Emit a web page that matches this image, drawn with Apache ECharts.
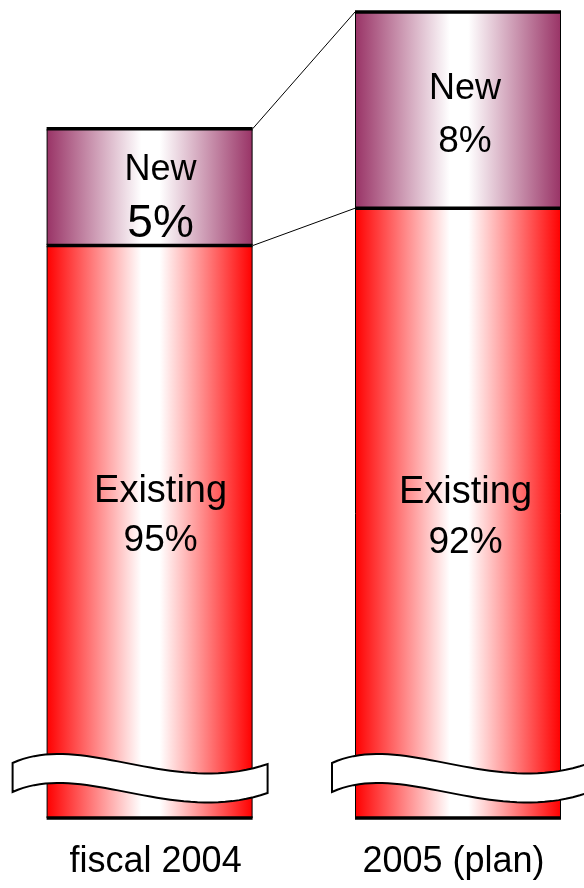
<!DOCTYPE html>
<html><head><meta charset="utf-8">
<script src="https://cdn.jsdelivr.net/npm/echarts@6/dist/echarts.min.js"></script>
<style>html,body{margin:0;padding:0;background:#fff}#c{width:584px;height:888px}</style>
</head><body><div id="c"></div>
<script>
// ---- data ----
const categories = ['fiscal 2004', '2005 (plan)'];
const totalIndex = [100, 105];      // total volume, fiscal 2004 = 100
const existingShare = [95, 92];     // % of each year's total
const newShare = [5, 8];            // % of each year's total
const axisBreakValue = 70.5;        // value at the bottom of the (broken) axis

// ---- derived series values ----
const existingVal = totalIndex.map((t, i) => t * existingShare[i] / 100);
const newVal = totalIndex.map((t, i) => t * newShare[i] / 100);

// ---- styling / layout ----
const FONT = "'Liberation Sans', Arial, sans-serif";
const BAR_W = 206;
const newLabelOffset = [[11, 10.5], [7, 5]];
const existLabelOffset = [[11, -16], [7.5, 4]];
const ribbonShift = [-34, -23];

function grad(edge) {
  return { type: 'linear', x: 0, y: 0, x2: 1, y2: 0, colorStops: [
    { offset: 0, color: edge }, { offset: 0.46, color: '#ffffff' },
    { offset: 0.55, color: '#ffffff' }, { offset: 1, color: edge } ] };
}

const chart = echarts.init(document.getElementById('c'), null, { renderer: 'canvas' });

const existData = existingVal.map((v, i) => ({
  value: v,
  label: { offset: existLabelOffset[i] }
}));
const newData = newVal.map((v, i) => ({
  value: v,
  label: { offset: newLabelOffset[i] }
}));

chart.setOption({
  animation: false,
  backgroundColor: '#ffffff',
  grid: { left: -4.6, right: -28.2, top: 12, bottom: 70, outerBoundsMode: 'none' },
  xAxis: {
    type: 'category', data: categories,
    axisLine: { show: false }, axisTick: { show: false }, splitLine: { show: false },
    axisLabel: {
      margin: 26, fontSize: 36, fontFamily: FONT, color: '#000',
      formatter: (v, i) => (i === 0 ? '{a|' + v + '}' : '{b|' + v + '}'),
      rich: {
        a: { fontSize: 36, fontFamily: FONT, color: '#000', lineHeight: 36, padding: [0, 0, 0, 12] },
        b: { fontSize: 36, fontFamily: FONT, color: '#000', lineHeight: 36, padding: [0, 9, 0, 0] }
      }
    }
  },
  yAxis: {
    type: 'value', min: axisBreakValue, max: totalIndex[1],
    show: false, splitLine: { show: false }
  },
  series: [
    {
      name: 'Existing', type: 'bar', stack: 'total', barWidth: BAR_W, clip: true,
      data: existData,
      itemStyle: { color: grad('#ff0000'), borderColor: '#000', borderWidth: 1 },
      label: {
        show: true, position: 'inside', color: '#000', fontFamily: FONT,
        formatter: (p) => '{t|Existing}\n{v|' + existingShare[p.dataIndex] + '%}',
        rich: {
          t: { fontSize: 38, fontFamily: FONT, color: '#000', lineHeight: 50 },
          v: { fontSize: 37, fontFamily: FONT, color: '#000', lineHeight: 50 }
        }
      }
    },
    {
      name: 'New', type: 'bar', stack: 'total', barWidth: BAR_W, clip: true,
      data: newData,
      itemStyle: { color: grad('#993366'), borderColor: '#000', borderWidth: 1 },
      label: {
        show: true, position: 'inside', color: '#000', fontFamily: FONT,
        formatter: (p) => p.dataIndex === 0
          ? '{t|New}\n{big|' + newShare[0] + '%}'
          : '{t|New}\n{v|' + newShare[p.dataIndex] + '%}',
        rich: {
          t: { fontSize: 36, fontFamily: FONT, color: '#000', lineHeight: 53 },
          v: { fontSize: 37, fontFamily: FONT, color: '#000', lineHeight: 53 },
          big: { fontSize: 46, fontFamily: FONT, color: '#000', lineHeight: 55 }
        }
      }
    }
  ]
});

// ---- decorations computed through the chart's own scales ----
function px(i) { return chart.convertToPixel({ xAxisIndex: 0 }, i); }
function py(v) { return chart.convertToPixel({ yAxisIndex: 0 }, v); }

function cubic(p0, p1, p2, p3, n) {
  const pts = [];
  for (let k = 0; k <= n; k++) {
    const t = k / n, u = 1 - t;
    pts.push([
      u*u*u*p0[0] + 3*u*u*t*p1[0] + 3*u*t*t*p2[0] + t*t*t*p3[0],
      u*u*u*p0[1] + 3*u*u*t*p1[1] + 3*u*t*t*p2[1] + t*t*t*p3[1]
    ]);
  }
  return pts;
}

const graphics = [];
const geo = categories.map((c, i) => {
  const cx = px(i);
  return {
    l: cx - BAR_W / 2, r: cx + BAR_W / 2,
    top: py(totalIndex[i]), mid: py(existingVal[i]), bot: py(axisBreakValue)
  };
});

geo.forEach((g, i) => {
  [g.top, g.mid, g.bot].forEach((y) => {
    graphics.push({ type: 'line', z: 100, shape: { x1: g.l, y1: y, x2: g.r, y2: y },
      style: { stroke: '#000', lineWidth: 3.5 } });
  });
  // wavy break ribbon
  const ox = g.l + ribbonShift[i], oy = g.bot - 55;
  const topC = cubic([0, 0], [70, -32], [160, 34], [255, 1], 40);
  const botC = cubic([255, 30], [160, 63], [70, -3], [0, 29], 40);
  const pts = topC.concat(botC).map((p) => [p[0] + ox, p[1] + oy]);
  graphics.push({ type: 'polygon', z: 101, shape: { points: pts },
    style: { fill: '#ffffff', stroke: '#000', lineWidth: 2 } });
});

// connector lines between the bars
graphics.push({ type: 'line', z: 99, shape: { x1: geo[0].r, y1: geo[0].top, x2: geo[1].l, y2: geo[1].top },
  style: { stroke: '#000', lineWidth: 1 } });
graphics.push({ type: 'line', z: 99, shape: { x1: geo[0].r, y1: geo[0].mid, x2: geo[1].l, y2: geo[1].mid },
  style: { stroke: '#000', lineWidth: 1 } });

chart.setOption({ graphic: { elements: graphics } });
</script>
</body></html>
